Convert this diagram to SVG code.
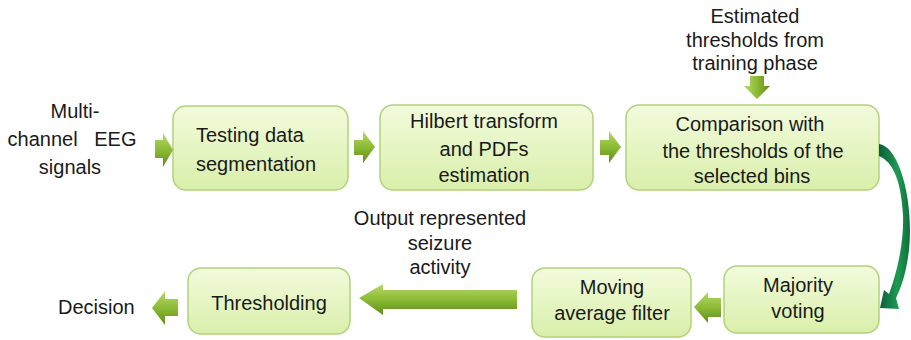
<svg xmlns="http://www.w3.org/2000/svg" width="911" height="340" viewBox="0 0 911 340">
<defs>
<linearGradient id="boxg" x1="0" y1="0" x2="0" y2="1">
<stop offset="0" stop-color="#f2fbdc"/>
<stop offset="1" stop-color="#d9efaa"/>
</linearGradient>
<linearGradient id="arrh" x1="0" y1="0" x2="0" y2="1">
<stop offset="0" stop-color="#b6d96a"/>
<stop offset="0.5" stop-color="#8cbb34"/>
<stop offset="1" stop-color="#5f8c1c"/>
</linearGradient>
<linearGradient id="arrv" x1="0" y1="0" x2="1" y2="0">
<stop offset="0" stop-color="#b6d96a"/>
<stop offset="0.5" stop-color="#8cbb34"/>
<stop offset="1" stop-color="#5f8c1c"/>
</linearGradient>
<linearGradient id="curve" x1="0" y1="0" x2="1" y2="0">
<stop offset="0" stop-color="#0b5e3a"/>
<stop offset="0.6" stop-color="#1f9a52"/>
<stop offset="1" stop-color="#0f6e3e"/>
</linearGradient>
</defs>
<style>
.box{fill:url(#boxg);stroke:#b2d27c;stroke-width:1.5}
.t{font-family:"Liberation Sans",Arial,sans-serif;font-size:20px;fill:#1a1a1a}
.c{text-anchor:middle}
.ar{fill:url(#arrh)}
.av{fill:url(#arrv)}
</style>
<rect width="911" height="340" fill="#ffffff"/>
<g id="input-label">
<text class="t c" x="75" y="118">Multi-</text>
<text class="t c" x="72" y="146" xml:space="preserve">channel   EEG</text>
<text class="t c" x="70" y="174">signals</text>
</g>
<g id="training-label">
<text class="t c" x="755" y="23">Estimated</text>
<text class="t c" x="755" y="47">thresholds from</text>
<text class="t c" x="755" y="70">training phase</text>
</g>
<g id="output-label">
<text class="t c" x="440" y="225">Output represented</text>
<text class="t c" x="440" y="250">seizure</text>
<text class="t c" x="440" y="274">activity</text>
</g>
<g id="decision-label">
<text class="t" x="58" y="314">Decision</text>
</g>
<g id="box-segmentation">
<rect class="box" x="173" y="106" width="175" height="84" rx="13"/>
<text class="t" x="196" y="142">Testing data</text>
<text class="t" x="196" y="171">segmentation</text>
</g>
<g id="box-hilbert">
<rect class="box" x="380" y="105" width="213" height="85" rx="13"/>
<text class="t c" x="484" y="128">Hilbert transform</text>
<text class="t c" x="484" y="156">and PDFs</text>
<text class="t c" x="484" y="182">estimation</text>
</g>
<g id="box-comparison">
<rect class="box" x="626" y="105" width="253" height="85" rx="13"/>
<text class="t c" x="750" y="131">Comparison with</text>
<text class="t c" x="753" y="158">the thresholds of the</text>
<text class="t c" x="752" y="183">selected bins</text>
</g>
<g id="box-majority">
<rect class="box" x="724" y="266" width="155" height="67" rx="13"/>
<text class="t c" x="798" y="292">Majority</text>
<text class="t c" x="798" y="318">voting</text>
</g>
<g id="box-moving">
<rect class="box" x="532" y="268" width="159" height="69" rx="13"/>
<text class="t c" x="612" y="294">Moving</text>
<text class="t c" x="612" y="320">average filter</text>
</g>
<g id="box-thresholding">
<rect class="box" x="188" y="268" width="162" height="66" rx="13"/>
<text class="t c" x="269" y="310">Thresholding</text>
</g>
<g id="connectors">
<path class="ar" d="M155,140 L163,140 L163,133 L173,150 L163,167 L163,158 L155,158 Z"/>
<path class="ar" d="M354,140 L363,140 L363,131 L375,147 L363,163 L363,155 L354,155 Z"/>
<path class="ar" d="M600,140 L609,140 L609,131 L621,147 L609,163 L609,155 L600,155 Z"/>
<path class="av" d="M750,76 L764,76 L764,86 L770,86 L757,99 L744,86 L750,86 Z"/>
<path d="M879,144 C899,146 914,200 909,250 C906,274 901,288 896,298 L899,309 L880,308 L884,290 L889,294 C898,270 904,240 903,215 C901,180 893,162 879,156 Z" fill="url(#curve)"/>
<path class="ar" d="M721,298 L708,298 L708,292 L694,307 L708,323 L708,317 L721,317 Z"/>
<path class="ar" d="M517,290 L383,290 L383,284 L359,298 L383,315 L383,309 L517,309 Z"/>
<path class="ar" d="M178,299 L165,299 L165,291 L152,308 L165,325 L165,316 L178,316 Z"/>
</g>
</svg>
